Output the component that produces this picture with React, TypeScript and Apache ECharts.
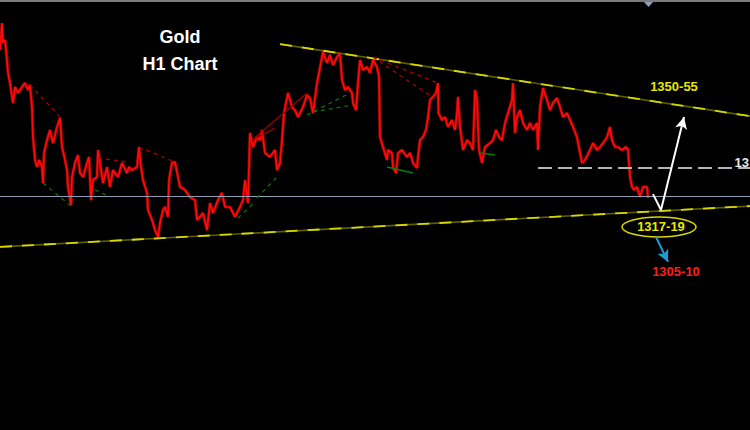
import React, { useEffect, useRef } from "react";
import * as echarts from "echarts";

// Bar position (x) and gold price (H1 closes)
const barIndex: number[] = [
  0, 2, 3, 5, 7, 8, 10, 13, 15, 18, 22, 25, 28, 30, 32, 33, 35, 37, 39, 42, 43, 44, 47, 50, 53, 57, 60, 62, 65, 67, 68, 71, 72, 75, 78, 80, 83, 87, 89, 91, 93, 97, 98, 100, 103, 107, 110, 113, 118, 122, 127, 129,
  132, 137, 139, 141, 143, 147, 148, 152, 155, 158, 160, 163, 165, 168, 169, 172, 175, 178, 180, 185, 190, 195, 197, 200, 203, 207, 210, 213, 218, 222, 225, 230, 235, 240, 243, 245, 248,
  250, 253, 257, 260, 262, 265, 270, 275, 277, 280, 282, 284, 288, 292, 295, 298, 303, 307, 310, 313, 317, 319, 323, 327, 330, 333, 337, 340, 342, 345, 348, 352, 353, 356, 358, 360, 363, 367, 370, 373, 377, 379,
  380, 383, 387, 388, 392, 393, 396, 398, 402, 407, 410, 413, 417, 418, 420, 423, 426, 428, 430, 433, 436, 438, 438.5, 442, 445, 448, 452, 455, 457, 458, 460, 463, 467, 470, 473, 475, 477, 479, 482, 485, 490, 493, 496, 499,
  502, 505, 508, 512, 513, 515, 517, 520, 523, 527, 530, 533, 537, 538, 540, 543, 547, 550, 553, 557, 560, 563, 567, 570, 573, 577, 580, 582, 585, 590, 593, 597, 600, 603, 607, 610, 612, 615, 618, 622, 626, 628,
  630, 632, 634, 637, 640, 643, 647, 648,
];
const goldPrice: number[] = [
  1371.3, 1380.3, 1373.7, 1374.7, 1368, 1363.7, 1360.3, 1353.7, 1359, 1357, 1359, 1360.3, 1358, 1359.7, 1352.3, 1342.3, 1334.7, 1332.3, 1334.7, 1332.3, 1327, 1337, 1341.3, 1344.7, 1340.3, 1345.7, 1348.7, 1339, 1334.7, 1331.3, 1325.7, 1319.7, 1329, 1333.7, 1336.3, 1330.3, 1329, 1333.7, 1335.7, 1321.3, 1328, 1329, 1338, 1333.7, 1327, 1332.3, 1325.7, 1331.3, 1329, 1333.7, 1330.3, 1332.3,
  1331.3, 1332.3, 1339, 1332.3, 1328, 1323.7, 1318, 1314.7, 1311.3, 1309, 1313.7, 1318, 1319, 1315.7, 1328, 1333.7, 1334, 1329, 1325.7, 1324.7, 1322.3, 1321.3, 1314.7, 1315.7, 1317, 1311.3, 1320.3, 1317, 1321.3, 1323.7, 1319, 1319, 1315.7, 1319, 1321.3, 1328, 1320.3,
  1343.7, 1339, 1342.3, 1341.3, 1344.7, 1337, 1335.7, 1338, 1331.3, 1333.7, 1341.3, 1350.3, 1357, 1352.3, 1351.3, 1349, 1352.3, 1356.3, 1355.3, 1350.3, 1360.3, 1363.7, 1370.7, 1367, 1369.7, 1366.3, 1369, 1370.3, 1361.3, 1358, 1359, 1357, 1353.7, 1351.3, 1360.3, 1368, 1364.7, 1365.7, 1363.7, 1368, 1365.7, 1362.3,
  1342.3, 1339, 1334.7, 1338, 1337, 1332.3, 1330.3, 1337, 1338, 1335.7, 1337, 1333.7, 1332, 1335.7, 1341.3, 1342.3, 1344.7, 1349, 1354.7, 1355.7, 1357, 1360.3, 1350.3, 1348, 1349, 1345.7, 1348, 1344.7, 1350.3, 1355.7, 1345.7, 1338, 1341.3, 1340.3, 1338, 1358, 1354.7, 1338, 1333.7, 1339, 1340.3, 1341.3, 1344.7, 1342.3,
  1341.3, 1347, 1350.3, 1354.7, 1360.3, 1343.7, 1349, 1351.3, 1347, 1344.7, 1347, 1344.7, 1347, 1338, 1352.3, 1358.7, 1354.7, 1351.3, 1353.7, 1355.3, 1352.3, 1349, 1350.3, 1348, 1345.7, 1342.3, 1337, 1333.7, 1334.7, 1338, 1340.3, 1338, 1339, 1340.3, 1342.3, 1345.7, 1341.3, 1339, 1339, 1338, 1339, 1338,
  1329, 1325.7, 1324.7, 1325.7, 1322.3, 1325.7, 1325.7, 1322,
];

// Trend lines: [x1, price1, x2, price2]
const resistanceLine: number[] = [280, 1373.3, 750, 1349.3];
const supportLine: number[] = [0, 1305.7, 750, 1319.3];
const currentPriceLine: number[] = [0, 1322.7, 750, 1322.7];
const level1330Line: number[] = [538, 1332, 750, 1332];

// Zigzag connectors
const redSwings: number[][] = [
  [30, 1359.7, 60, 1349],
  [98, 1335.3, 128, 1334],
  [139, 1339, 175, 1334],
  [373, 1369, 438, 1360.3],
  [373, 1369, 432, 1355.7],
];
const redSolidSwings: number[][] = [
  [252, 1341.3, 307, 1357],
  [252, 1341.3, 275, 1345.3],
];
const greenSwings: number[][] = [
  [43, 1327, 71, 1319.3],
  [95, 1324.7, 108, 1322.7],
  [238, 1315.3, 255, 1320.7],
  [257, 1322, 277, 1329],
  [307, 1349.7, 350, 1357],
  [313, 1350.7, 353, 1353],
];
const greenSolidSwings: number[][] = [
  [387, 1332.3, 413, 1330.3],
  [480, 1337, 495, 1336.3],
];

// Projection arrows
const whiteDown: number[] = [653, 1323.3, 661, 1318];
const whiteUp: number[] = [661, 1318, 684, 1349];
const blueDown: number[] = [656, 1309, 668, 1300.7];

// Labels
const titleLines: string[] = ["Gold", "H1 Chart"];
const targetUp = "1350-55";
const supportZone = "1317-19";
const targetDown = "1305-10";
const levelLabel = "13";

function seg(s: number[], lineStyle: any, arrow = false): any {
  return [
    { coord: [s[0], s[1]], lineStyle, symbol: "none" },
    { coord: [s[2], s[3]], symbol: arrow ? "arrow" : "none", symbolSize: arrow ? [9, 12] : 0 },
  ];
}

export default function App() {
  const ref = useRef<HTMLDivElement>(null);
  useEffect(() => {
    document.body.style.margin = "0";
    document.body.style.background = "#000";
    const chart = echarts.init(ref.current!, null, { renderer: "svg" });
    const redDash = { color: "#b00000", width: 1.2, type: [4, 4] };
    const redSolid = { color: "#a00000", width: 1.2, type: "solid" };
    const greenDash = { color: "#0a7a0a", width: 1.2, type: [4, 4] };
    const greenSolid = { color: "#0a7a0a", width: 1.5, type: "solid" };
    const oliveBase = { color: "#5e5e00", width: 1.6, type: "solid" };
    const yellowDash = { color: "#d8d800", width: 1.8, type: [12, 10] };
    const markLines: any[] = [
      seg(resistanceLine, oliveBase),
      seg(supportLine, oliveBase),
      seg(resistanceLine, yellowDash),
      seg(supportLine, yellowDash),
      seg(currentPriceLine, { color: "#8fa0b4", width: 1, type: "solid" }),
      seg(level1330Line, { color: "#b4b4b4", width: 2, type: [14, 6] }),
      ...redSwings.map((s) => seg(s, redDash)),
      ...redSolidSwings.map((s) => seg(s, redSolid)),
      ...greenSwings.map((s) => seg(s, greenDash)),
      ...greenSolidSwings.map((s) => seg(s, greenSolid)),
    ];
    const arrowLines: any[] = [
      seg(whiteDown, { color: "#ffffff", width: 2, type: "solid" }),
      seg(whiteUp, { color: "#ffffff", width: 2, type: "solid" }, true),
      seg(blueDown, { color: "#1e9bd7", width: 2, type: "solid" }, true),
    ];
    const bold = "Liberation Sans, Arial, sans-serif";
    const priceData = barIndex.map((x, i) => [x, goldPrice[i]]);
    chart.setOption({
      animation: false,
      backgroundColor: "#000000",
      grid: { left: 0, right: 0, top: 0, height: 429 },
      xAxis: { type: "value", min: 0, max: 750, show: false },
      yAxis: { type: "value", min: 1245, max: 1388, show: false, splitLine: { show: false } },
      series: [
        {
          type: "line",
          data: [],
          markLine: { silent: true, symbol: ["none", "none"], label: { show: false }, data: markLines },
        },
        {
          type: "line",
          data: priceData,
          showSymbol: false,
          symbol: "none",
          lineStyle: { color: "#8a0000", width: 3.2 },
          z: 2,
        },
        {
          type: "line",
          data: priceData,
          showSymbol: false,
          symbol: "none",
          lineStyle: { color: "#ff0a0a", width: 1.7 },
          z: 3,
        },
        {
          type: "line",
          data: [],
          z: 4,
          markLine: { silent: true, symbol: ["none", "none"], label: { show: false }, data: arrowLines },
        },
      ],
      graphic: [
        { type: "rect", shape: { x: 0, y: 0, width: 750, height: 2 }, style: { fill: "#7c7c7c" } },
        { type: "polygon", shape: { points: [[644, 2], [653, 2], [648.5, 7]] }, style: { fill: "#8ca2bc" } },
        { type: "text", x: 180, y: 37, style: { text: titleLines[0], fill: "#ffffff", font: `bold 18px ${bold}`, align: "center", verticalAlign: "middle" } },
        { type: "text", x: 180, y: 64, style: { text: titleLines[1], fill: "#ffffff", font: `bold 18px ${bold}`, align: "center", verticalAlign: "middle" } },
        { type: "text", x: 674, y: 86, style: { text: targetUp, fill: "#e8e800", font: `bold 13px ${bold}`, align: "center", verticalAlign: "middle" } },
        { type: "ellipse", shape: { cx: 659, cy: 227, rx: 37, ry: 10 }, style: { fill: "none", stroke: "#d8d800", lineWidth: 1.5 } },
        { type: "text", x: 661, y: 226, style: { text: supportZone, fill: "#e8e800", font: `bold 13px ${bold}`, align: "center", verticalAlign: "middle" } },
        { type: "text", x: 676, y: 271, style: { text: targetDown, fill: "#ff1e1e", font: `bold 13px ${bold}`, align: "center", verticalAlign: "middle" } },
        { type: "text", x: 749, y: 162, style: { text: levelLabel, fill: "#e6e6e6", font: `bold 13px ${bold}`, align: "right", verticalAlign: "middle" } },
      ],
    });
    return () => chart.dispose();
  }, []);
  return <div ref={ref} style={{ width: 750, height: 430, background: "#000" }} />;
}
